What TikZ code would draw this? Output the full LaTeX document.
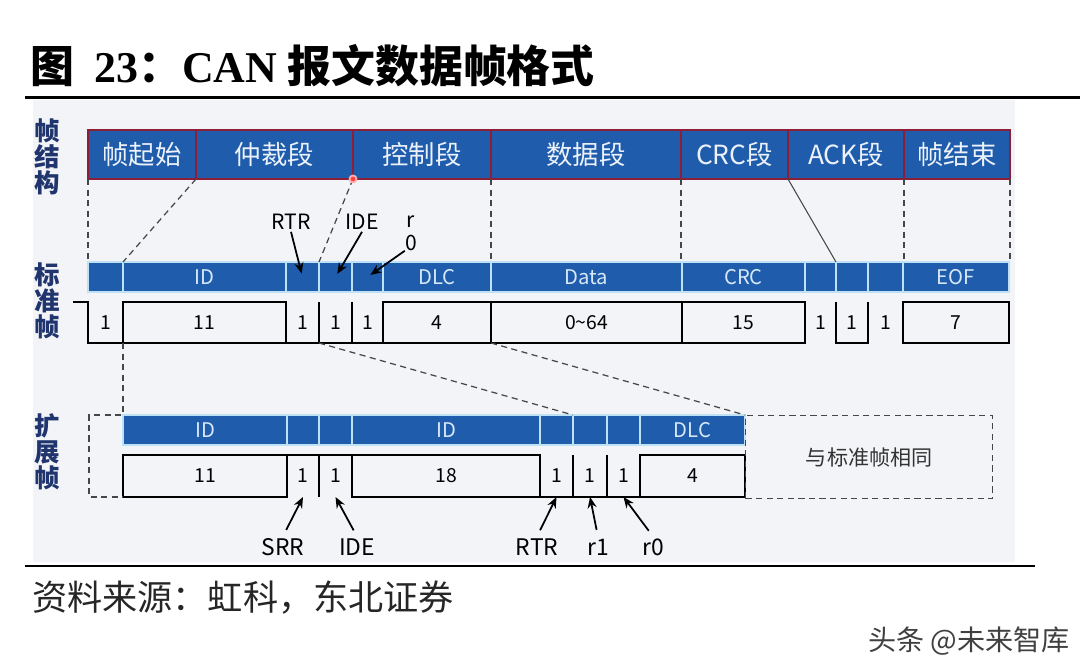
\documentclass[tikz,border=0pt]{standalone}
\usepackage{fontspec}
\setmainfont{Noto Sans CJK SC}
\newfontfamily\titleserif{Liberation Serif}
\usetikzlibrary{arrows.meta, positioning}

\definecolor{canblue}{RGB}{31,93,172}
\definecolor{gapblue}{RGB}{190,225,245}
\definecolor{framered}{RGB}{140,30,55}
\definecolor{barfont}{RGB}{215,232,248}
\definecolor{headfont}{RGB}{236,241,250}
\definecolor{sidenavy}{RGB}{32,52,110}
\definecolor{panel}{RGB}{242,244,247}
\definecolor{guidegray}{RGB}{70,70,70}

\begin{document}
\begin{tikzpicture}[
x=0.02cm, y=-0.02cm,
node distance=0pt,
cellw/.style={minimum width=#1*0.02cm},
head/.style={rectangle, draw=framered, line width=1.1pt, fill=canblue, text=headfont, font=\fontsize{15}{17}\selectfont, minimum height=0.98cm, inner sep=0pt, outer sep=0pt},
bar/.style={rectangle, draw=gapblue, line width=1.5pt, fill=canblue, text=barfont, font=\fontsize{11.5}{14}\selectfont, minimum height=0.6cm, inner sep=0pt, outer sep=0pt},
bit/.style={rectangle, font=\fontsize{11}{13}\selectfont, minimum height=0.82cm, inner sep=0pt, outer sep=0pt},
bitx/.style={bit, minimum height=0.84cm},
boxed/.style={draw, line width=1.1pt},
wave/.style={line width=1.1pt},
guide/.style={guidegray, line width=0.7pt, dash pattern=on 3.5pt off 2.5pt},
ptr/.style={-{Stealth[length=2.2mm, width=1.8mm]}, line width=1pt},
lbl/.style={font=\fontsize{12}{13}\selectfont, inner sep=1pt},
lblx/.style={font=\fontsize{13}{15}\selectfont, inner sep=1pt},
side/.style={font=\fontsize{14.5}{14.7}\selectfont\bfseries, text=sidenavy, align=center}
]
\useasboundingbox (0,0) rectangle (1080,671);
\fill[panel] (33,100) rectangle (1015,562);

\node[anchor=west, font=\fontsize{25}{30}\selectfont\bfseries] (title) at (24,66) {图\ \ {\titleserif 23}：{\titleserif CAN} 报文数据帧格式};
\draw[line width=1.7pt] (25,98) -- (1080,98);

\node[side] (lhead) at (47,157) {帧\\结\\构};
\node[side] (lstd) at (47,301) {标\\准\\帧};
\node[side] (lext) at (47,452) {扩\\展\\帧};

\node[head, cellw=108, anchor=west] (tsof) at (88,154.5) {帧起始};
\node[head, cellw=157, right=of tsof] (tarb) {仲裁段};
\node[head, cellw=138, right=of tarb] (tctl) {控制段};
\node[head, cellw=190, right=of tctl] (tdata) {数据段};
\node[head, cellw=107, right=of tdata] (tcrc) {CRC段};
\node[head, cellw=116, right=of tcrc] (tack) {ACK段};
\node[head, cellw=106, right=of tack] (teof) {帧结束};

\node[bar, cellw=35, anchor=west] (ssof) at (88,277) {};
\node[bar, cellw=163, right=of ssof] (sid) {ID};
\node[bar, cellw=33, right=of sid] (srtr) {};
\node[bar, cellw=33, right=of srtr] (side) {};
\node[bar, cellw=31, right=of side] (sr0) {};
\node[bar, cellw=108, right=of sr0] (sdlc) {DLC};
\node[bar, cellw=191, right=of sdlc] (sdata) {Data};
\node[bar, cellw=123, right=of sdata] (scrc) {CRC};
\node[bar, cellw=31, right=of scrc] (scrcd) {};
\node[bar, cellw=32, right=of scrcd] (sack) {};
\node[bar, cellw=35, right=of sack] (sackd) {};
\node[bar, cellw=106, right=of sackd] (seof) {EOF};

\node[bit, cellw=35, anchor=west] (nsof) at (88,322.5) {1};
\node[bit, boxed, cellw=163, right=of nsof] (nid) {11};
\node[bit, cellw=33, right=of nid] (nrtr) {1};
\node[bit, cellw=33, right=of nrtr] (nide) {1};
\node[bit, cellw=31, right=of nide] (nr0) {1};
\node[bit, boxed, cellw=108, right=of nr0] (ndlc) {4};
\node[bit, boxed, cellw=191, right=of ndlc] (ndata) {0\textasciitilde 64};
\node[bit, boxed, cellw=123, right=of ndata] (ncrc) {15};
\node[bit, cellw=31, right=of ncrc] (ncrcd) {1};
\node[bit, cellw=32, right=of ncrcd] (nack) {1};
\node[bit, cellw=35, right=of nack] (nackd) {1};
\node[bit, boxed, cellw=106, right=of nackd] (neof) {7};

\draw[wave] ([xshift=-0.3cm]nsof.north west) -- (nsof.north west) -- (nsof.south west) -- (nr0.south east);
\draw[wave] (nrtr.north east) -- (nrtr.south east) (nide.north east) -- (nide.south east);
\draw[wave] (nack.north west) -- (nack.south west) -- (nack.south east) -- (nack.north east);

\node[bar, cellw=164, anchor=west] (eid) at (123,430) {ID};
\node[bar, cellw=32, right=of eid] (esrr) {};
\node[bar, cellw=33, right=of esrr] (eide) {};
\node[bar, cellw=188, right=of eide] (eid2) {ID};
\node[bar, cellw=33, right=of eid2] (ertr) {};
\node[bar, cellw=34, right=of ertr] (er1) {};
\node[bar, cellw=33, right=of er1] (er0) {};
\node[bar, cellw=105, right=of er0] (edlc) {DLC};

\node[bitx, boxed, cellw=164, anchor=west] (xid) at (123,476) {11};
\node[bitx, cellw=32, right=of xid] (xsrr) {1};
\node[bitx, cellw=33, right=of xsrr] (xide) {1};
\node[bitx, boxed, cellw=188, right=of xide] (xid2) {18};
\node[bitx, cellw=33, right=of xid2] (xrtr) {1};
\node[bitx, cellw=34, right=of xrtr] (xr1) {1};
\node[bitx, cellw=33, right=of xr1] (xr0) {1};
\node[bitx, boxed, cellw=105, right=of xr0] (xdlc) {4};

\draw[wave] (xid.north east) -- (xide.north east) (xsrr.north east) -- (xsrr.south east);
\draw[wave] (xid2.south east) -- (xr0.south east);
\draw[wave] (xrtr.north east) -- (xrtr.south east) (xr1.north east) -- (xr1.south east);

\node[draw, guide, line width=0.8pt, text=black!80, font=\fontsize{12}{14}\selectfont, minimum width=4.94cm, minimum height=1.66cm, anchor=north west] (same) at (edlc.north east) {与标准帧相同};

\draw[guide] (tsof.south west) -- (tsof.south west |- ssof.north);
\draw[guide] (tarb.south west) -- (sid.north west);
\draw[guide] (tctl.south west) -- (side.north west);
\draw[guide] (tdata.south west) -- (tdata.south west |- sdata.north);
\draw[guide] (tcrc.south west) -- (tcrc.south west |- scrc.north);
\draw[guidegray, line width=0.6pt] (tack.south west) -- (sack.north west);
\draw[guide] (teof.south west) -- (teof.south west |- seof.north);
\draw[guide] (teof.south east) -- (teof.south east |- seof.north);
\node[circle, fill=red!75, draw=red!30, line width=1pt, inner sep=0pt, minimum size=0.14cm] (mark) at (tctl.south west) {};

\draw[guide] (nid.south west) -- (nid.south west |- eid.north) -| ([xshift=-0.68cm]xid.south west) -- (xid.south west);
\draw[guide] (nrtr.south east) -- (er1.north west);
\draw[guide] (ndlc.south east) -- (edlc.north east);

\node[lbl] (rtrtop) at (291,222) {RTR};
\node[lbl] (idetop) at (362,222) {IDE};
\node[lbl, align=center, inner sep=0pt] (r0top) at (411,233) {r\\0};
\draw[ptr, shorten >=2pt] (rtrtop.south) -- (srtr.center);
\draw[ptr, shorten >=2pt] (idetop.south) -- (side.center);
\draw[ptr, shorten >=2pt] (r0top.south west) -- (sr0.center);

\node[lblx] (srrlbl) at (283,547) {SRR};
\node[lblx] (idelbl) at (357,547) {IDE};
\node[lblx] (rtrlbl) at (537,547) {RTR};
\node[lblx] (r1lbl) at (598,547) {r1};
\node[lblx] (r0lbl) at (653,547) {r0};
\draw[ptr, shorten <=4pt] (srrlbl.north) -- (xsrr.south);
\draw[ptr, shorten <=4pt] (idelbl.north) -- (xide.south);
\draw[ptr, shorten <=4pt] (rtrlbl.north) -- (xrtr.south);
\draw[ptr, shorten <=4pt] (r1lbl.north) -- (xr1.south);
\draw[ptr, shorten <=4pt] (r0lbl.north) -- (xr0.south);

\draw[line width=1.7pt] (25,566) -- (1035,566);
\node[anchor=west, font=\fontsize{20}{24}\selectfont, text=black!85] (src) at (26,598) {资料来源：虹科，东北证券};
\node[anchor=east, font=\fontsize{16}{20}\selectfont, text=black!75] (wm) at (1076,641) {头条 @未来智库};
\end{tikzpicture}
\end{document}
